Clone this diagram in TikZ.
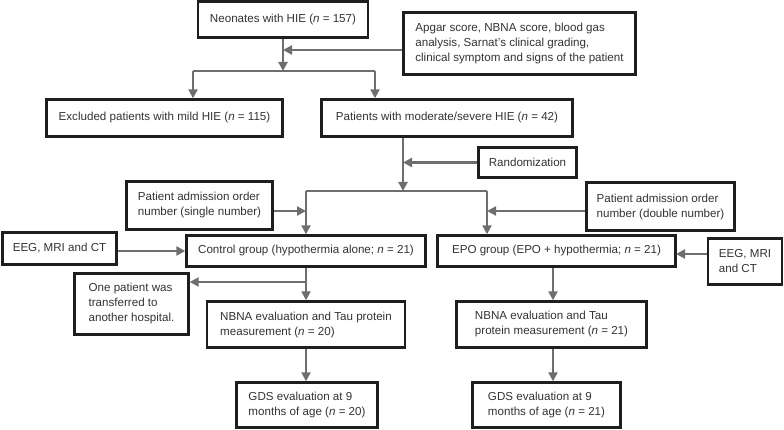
\documentclass[tikz,border=0pt]{standalone}
\usepackage{fontspec}
\setmainfont{Liberation Sans}
\usetikzlibrary{arrows.meta}
\definecolor{arrgray}{HTML}{6E6E6E}
\definecolor{txtgray}{HTML}{333333}
\definecolor{boxline}{HTML}{1E1E1E}
\begin{document}
\begin{tikzpicture}[x=1pt,y=-1pt,
  box/.style={draw=boxline, line width=2.4pt, inner sep=0pt, align=left, text=txtgray,
    font=\fontsize{11.6}{15}\selectfont},
  arr/.style={draw=arrgray, line width=2.2pt, -{Triangle[length=9pt,width=9pt]}},
  ln/.style={draw=arrgray, line width=2.2pt}]
\fill[white] (0,0) rectangle (784,430);
\useasboundingbox (0,0) rectangle (784,430);

\node[box, minimum width=170pt, minimum height=36pt] (neo) at (283,19.5) {Neonates with HIE (\textit{n} = 157)};
\node[box, minimum width=232pt, minimum height=62pt] (apgar) at (519.5,43.5) {Apgar score, NBNA score, blood gas\\analysis, Sarnat’s clinical grading,\\clinical symptom and signs of the patient};
\node[box, minimum width=236pt, minimum height=37pt] (excl) at (164.5,118) {Excluded patients with mild HIE (\textit{n} = 115)};
\node[box, minimum width=251pt, minimum height=37pt] (mod) at (447,118) {Patients with moderate/severe HIE (\textit{n} = 42)};
\node[box, minimum width=98pt, minimum height=30pt] (rand) at (527.5,162.5) {Randomization};
\node[box, minimum width=146pt, minimum height=48pt] (single) at (199.5,205.5) {Patient admission order\\number (single number)};
\node[box, minimum width=148pt, minimum height=48pt] (double) at (660.5,206.5) {Patient admission order\\number (double number)};
\node[box, minimum width=114pt, minimum height=32pt] (eegL) at (59.5,248.5) {EEG, MRI and CT};
\node[box, minimum width=239pt, minimum height=31pt] (ctrl) at (306,251) {Control group (hypothermia alone; \textit{n} = 21)};
\node[box, minimum width=238pt, minimum height=31pt] (epo) at (556.5,251) {EPO group (EPO + hypothermia; \textit{n} = 21)};
\node[box, minimum width=74pt, minimum height=46pt] (eegR) at (745,261.5) {EEG, MRI\\and CT};
\node[box, minimum width=114pt, minimum height=61pt] (one) at (131.5,304) {One patient was\\transferred to\\another hospital.};
\node[box, minimum width=198pt, minimum height=46pt] (nbnaL) at (306,324.5) {NBNA evaluation and Tau protein\\measurement (\textit{n} = 20)};
\node[box, minimum width=190pt, minimum height=46pt] (nbnaR) at (551.5,324.5) {NBNA evaluation and Tau\\protein measurement (\textit{n} = 21)};
\node[box, minimum width=141pt, minimum height=45pt] (gdsL) at (307,405) {GDS evaluation at 9\\months of age (\textit{n} = 20)};
\node[box, minimum width=148pt, minimum height=45pt] (gdsR) at (546.5,405) {GDS evaluation at 9\\months of age (\textit{n} = 21)};

% junctions
\coordinate (j1) at (283,71);
\coordinate (a1) at (283,50);
\coordinate (jL) at (193,71);
\coordinate (jR) at (375,71);
\coordinate (j2) at (403,191);
\coordinate (cL) at (306,191);
\coordinate (cR) at (487,191);
\coordinate (s1) at (306,211);
\coordinate (s2) at (487,211);
\coordinate (e1) at (676,254);
\coordinate (o1) at (306,282);
\coordinate (xr) at (553,0);

\draw[arr] (neo.south) -- (j1);
\draw[arr] (apgar.west |- a1) -- (a1);
\draw[ln] (jL) -- (jR);
\draw[arr] (jL) -- (jL |- excl.north);
\draw[arr] (jR) -- (jR |- mod.north);
\draw[arr] (mod.south -| j2) -- (j2);
\draw[arr] (rand.west) -- (rand.west -| j2);
\draw[ln] (cL) -- (cR);
\draw[arr] (cL) -- (cL |- ctrl.north);
\draw[arr] (cR) -- (cR |- epo.north);
\draw[arr] (single.east |- s1) -- (s1);
\draw[arr] (double.west |- s2) -- (s2);
\draw[arr] (eegL.east |- ctrl.west) -- (ctrl.west);
\draw[arr] (eegR.west |- e1) -- (e1);
\draw[arr] (ctrl.south) -- (nbnaL.north);
\draw[arr] (o1) -- (one.east |- o1);
\draw[arr] (nbnaL.south) -- (gdsL.north -| nbnaL.south);
\draw[arr] (epo.south -| xr) -- (nbnaR.north -| xr);
\draw[arr] (nbnaR.south -| xr) -- (gdsR.north -| xr);
\end{tikzpicture}
\end{document}
